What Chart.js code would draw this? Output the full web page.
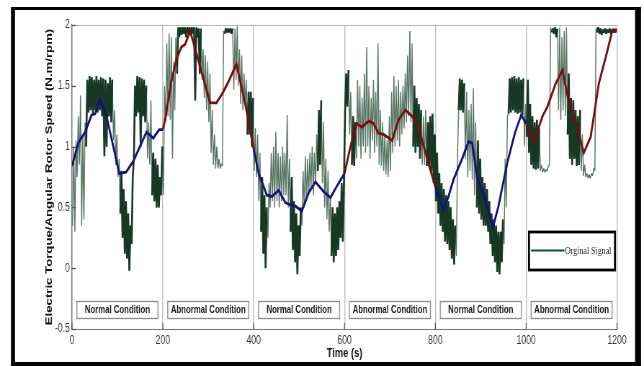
<!DOCTYPE html>
<html>
<head>
<meta charset="utf-8">
<script src="https://cdn.jsdelivr.net/npm/chart.js@4"></script>
<style>
html,body{margin:0;padding:0;background:#fff;overflow:hidden;}
#c{display:block;width:644px;height:366px;}
</style>
</head>
<body>
<canvas id="c" width="894" height="366" style="width:644px;height:366px;"></canvas>
<script>
// ---------- DATA ----------
const conditions = ['Normal Condition','Abnormal Condition','Normal Condition','Abnormal Condition','Normal Condition','Abnormal Condition'];
const segmentEdges = [0,200,400,600,800,1000,1200];
const xTicks = [0,200,400,600,800,1000,1200];
const yTicks = [-0.5,0,0.5,1,1.5,2];
const signalLabel = 'Orginal Signal';
const xTitle = 'Time (s)';
const yTitle = 'Electric Torque/Angular Rotor Speed (N.m/rpm)';
const binSeconds = 5;

// original (noisy) signal: min / max per 5 s bin
const signalLo = [
 0.35,0.30,0.75,0.85,0.35,0.40,1.0,1.28,1.30,1.27, 1.30,1.28,1.30,1.25,0.92,1.0,1.25,1.2,1.05,0.85,
 0.75,0.45,0.25,0.12,0.08,-0.02,0.2,0.9,1.25,1.28, 1.0,1.25,1.2,0.9,0.85,0.6,0.55,0.5,0.5,0.6,
 0.6,1.2,1.25,1.22,0.9,1.3,1.6,1.9,1.92,1.93, 1.9,1.93,1.92,1.93,1.38,1.9,1.6,1.55,1.4,1.3,
 1.2,0.95,0.85,0.82,0.82,0.82,0.84,1.93,1.94,1.94, 1.93,1.47,1.55,1.5,1.35,1.3,1.35,1.1,1.1,1.0,
 0.8,0.75,0.55,0.3,0.12,0.0,0.25,0.5,0.55,0.5, 0.55,0.5,0.55,0.6,0.6,0.5,0.3,0.15,0.05,-0.05,
 0.1,0.35,0.5,0.55,0.6,0.65,0.6,0.7,0.8,0.85, 0.7,0.5,0.4,0.3,0.1,0.05,0.1,0.15,0.25,0.22,
 1.3,1.33,1.1,0.85,0.84,0.9,1.0,0.9,1.0,0.95, 1.0,0.9,1.05,0.95,1.0,0.85,0.84,0.8,0.77,0.75,
 0.8,0.95,1.0,1.05,1.0,1.1,1.15,1.2,1.25,1.2, 1.0,0.95,1.0,0.9,0.85,0.85,0.84,0.85,0.8,0.7,
 0.55,0.45,0.35,0.3,0.22,0.2,0.15,0.08,0.03,0.1, 1.3,1.3,1.28,0.9,0.75,0.8,0.73,0.6,0.5,0.45,
 0.4,0.35,0.35,0.3,0.2,0.1,0.05,-0.03,-0.05,0.05, 0.2,0.5,1.27,1.28,1.3,1.28,1.27,1.28,1.26,1.0,
 1.08,0.95,0.85,0.82,0.81,0.82,0.8,0.79,0.79,0.8, 0.85,1.94,1.93,1.9,1.3,1.22,1.3,1.25,1.1,0.9,
 0.85,0.9,0.84,0.85,0.8,0.76,0.75,0.74,0.74,0.76, 0.8,1.94,1.93,1.92,1.94,1.93,1.94,1.93,1.94,1.94
];
const signalHi = [
 1.0,1.05,1.25,1.42,1.1,1.2,1.55,1.58,1.57,1.55, 1.58,1.55,1.57,1.56,1.55,1.52,1.57,1.55,1.3,1.1,
 0.9,0.8,0.65,0.55,0.45,0.35,0.75,1.5,1.58,1.57, 1.56,1.55,1.5,1.2,1.38,0.95,0.9,0.85,0.75,1.0,
 1.5,1.85,1.93,1.9,1.7,1.9,1.98,1.98,1.98,1.98, 1.98,1.98,1.98,1.98,1.98,1.97,1.97,1.8,1.75,1.7,
 1.6,1.3,1.1,1.0,0.9,0.86,1.95,1.97,1.97,1.97, 1.97,1.97,1.99,1.8,1.75,1.6,1.55,1.45,1.45,1.4,
 1.15,1.1,0.95,0.75,0.6,0.5,0.7,0.95,1.0,1.12, 0.95,0.92,1.0,0.95,1.26,0.9,0.75,0.55,0.45,0.35,
 0.5,0.8,0.92,0.9,0.95,1.0,0.95,1.1,1.3,1.38, 1.2,0.9,0.8,0.6,0.5,0.45,0.5,0.55,0.7,0.7,
 1.6,1.63,1.45,1.25,1.2,1.55,1.5,1.4,1.6,1.82, 1.5,1.4,1.55,1.45,1.85,1.3,1.2,1.1,1.05,1.25,
 1.45,1.58,1.5,1.55,1.45,1.5,1.6,1.75,1.95,1.85, 1.5,1.4,1.35,1.3,1.25,1.3,1.2,1.25,1.27,1.1,
 0.95,0.78,0.7,0.65,0.6,0.55,0.5,0.4,0.35,0.9, 1.56,1.55,1.52,1.45,1.3,1.35,1.48,1.2,1.05,0.9,
 0.75,0.7,0.65,0.55,0.45,0.4,0.35,0.3,0.3,0.4, 0.9,1.25,1.56,1.57,1.58,1.56,1.57,1.55,1.56,1.35,
 1.55,1.35,1.25,1.2,1.22,1.15,0.85,0.82,0.81,0.84, 1.98,1.97,1.98,1.97,1.98,1.9,1.95,1.98,1.6,1.4,
 1.38,1.3,1.25,1.3,1.1,0.85,0.78,0.77,0.78,0.82, 1.98,1.98,1.97,1.96,1.97,1.96,1.97,1.96,1.96,1.96
];
// 1 where the noisy trace is a dense dark band in the picture, 0 where it is sparse thin strokes
const signalDense = [
 0,0,0,0,0,0,1,1,1,1, 1,1,1,1,1,1,1,1,0,0, 0,1,1,1,1,1,1,1,1,1, 1,1,1,0,0,1,1,1,1,1,
 0,0,0,0,0,0,1,1,1,1, 1,1,1,1,1,1,1,0,0,0, 0,0,0,0,0,0,0,1,1,1, 1,0,0,0,0,0,0,1,1,1,
 0,0,0,1,1,1,0,0,0,0, 0,0,0,0,0,0,1,1,1,1, 1,0,0,0,0,0,0,0,1,1, 0,0,0,0,1,1,1,1,1,1,
 1,1,0,1,1,0,0,0,0,0, 0,0,0,0,0,0,0,0,0,0, 0,0,0,0,0,0,0,0,0,0, 1,1,1,1,0,0,1,1,1,1,
 1,1,1,1,1,1,1,1,1,0, 1,1,1,0,0,0,0,0,1,1, 1,1,1,1,1,1,1,1,1,1, 0,0,1,1,1,1,1,1,1,0,
 1,1,1,1,1,1,0,0,0,0, 0,1,1,1,0,0,0,0,1,1, 1,1,1,1,0,0,0,0,0,0, 0,1,1,1,1,1,1,1,1,1
];

// smoothed trend
const trendTime = [0,14,29,43,51,62,76,104,119,135,164,179,192,200,
 206,218,230,241,249,260,282,304,318,333,344,362,381,400,
 411,429,440,455,470,481,492,506,521,536,554,569,584,600,
 613,627,638,653,664,675,686,705,719,734,749,763,785,800,
 818,829,840,859,873,881,892,906,927,939,958,975,989,1000,
 1017,1036,1047,1065,1080,1094,1113,1127,1142,1160,1179,1190,1200];
const trendValue = [0.84,1.03,1.12,1.26,1.27,1.39,1.25,0.78,0.79,0.88,1.12,1.07,1.14,1.14,
 1.24,1.52,1.72,1.82,1.84,1.95,1.66,1.36,1.36,1.45,1.53,1.68,1.36,0.98,
 0.78,0.60,0.59,0.64,0.54,0.52,0.51,0.47,0.62,0.71,0.63,0.58,0.68,0.78,
 1.0,1.19,1.16,1.21,1.19,1.11,1.10,1.05,1.22,1.30,1.25,1.16,0.86,0.67,
 0.48,0.59,0.73,0.90,1.04,1.03,0.75,0.60,0.34,0.51,0.86,1.11,1.26,1.19,
 1.04,1.25,1.33,1.52,1.63,1.36,1.14,0.95,1.08,1.52,1.79,1.96,1.96];

// ---------- STYLE / LAYOUT ----------
// the figure is horizontally compressed: canvas is drawn wider and squeezed to 644 px by CSS
const SX = 644 / 894;
const cx = v => v / SX;   // screen x -> canvas x
const SANS = "'Liberation Sans',Arial,sans-serif";
const SERIF = "'Liberation Serif','Times New Roman',serif";
const NORMAL_COLOR = '#12127f';
const ABNORMAL_COLOR = '#7d0b0b';
const SIGNAL_DARK = '#163825';
const SIGNAL_LIGHT = '#557461';

const signalAll = [], signalDensePts = [];
for (let i = 0; i < signalLo.length; i++) {
  const x0 = i*binSeconds + binSeconds*0.25, x1 = i*binSeconds + binSeconds*0.75;
  signalAll.push({x: x0, y: signalLo[i]}, {x: x1, y: signalHi[i]});
  signalDensePts.push({x: x0, y: signalDense[i] ? signalLo[i] : null}, {x: x1, y: signalDense[i] ? signalHi[i] : null});
}
const trendPoints = trendTime.map((t,i) => ({x: t, y: trendValue[i]}));

function conditionIndex(x){
  for (let i = 0; i < conditions.length; i++) if (x >= segmentEdges[i] && x < segmentEdges[i+1]) return i;
  return conditions.length - 1;
}

const decor = {
  id: 'decor',
  beforeDatasetsDraw(chart){
    const {ctx, chartArea:a} = chart;
    ctx.save();
    ctx.strokeStyle = '#b8b8b8'; ctx.lineWidth = 1;
    ctx.beginPath(); ctx.moveTo(a.left, a.top + 0.5); ctx.lineTo(a.right, a.top + 0.5); ctx.stroke();
    ctx.restore();
  },
  afterDraw(chart){
    const {ctx, chartArea:a, scales} = chart;
    const xs = scales.x, ys = scales.y;
    ctx.save();
    // inward tick marks
    ctx.strokeStyle = '#555'; ctx.lineWidth = 1.3;
    yTicks.forEach(v => { const py = Math.round(ys.getPixelForValue(v)) + 0.5; ctx.beginPath(); ctx.moveTo(a.left, py); ctx.lineTo(a.left + cx(4), py); ctx.stroke(); });
    xTicks.forEach(v => { const px = xs.getPixelForValue(v); ctx.beginPath(); ctx.moveTo(px, a.bottom); ctx.lineTo(px, a.bottom - 6); ctx.stroke(); });
    // condition boxes
    ctx.font = "bold 10.8px " + SANS;
    ctx.textAlign = 'center'; ctx.textBaseline = 'middle';
    conditions.forEach((c,i) => {
      const mx = xs.getPixelForValue((segmentEdges[i] + segmentEdges[i+1]) / 2);
      const w = cx(81), h = 17, top = 301;
      ctx.fillStyle = '#fff'; ctx.fillRect(mx - w/2, top, w, h);
      ctx.strokeStyle = '#8a8a8a'; ctx.lineWidth = 1.3;
      ctx.strokeRect(mx - w/2, top + 0.5, w, h);
      ctx.fillStyle = '#1a1a1a';
      ctx.fillText(c, mx, top + h/2 + 1);
    });
    // legend
    const lx = cx(529), ly = 232, lw = cx(86), lh = 38;
    ctx.fillStyle = '#fff'; ctx.fillRect(lx, ly, lw, lh);
    ctx.strokeStyle = '#000'; ctx.lineWidth = 2.8; ctx.strokeRect(lx, ly, lw, lh);
    ctx.strokeStyle = '#0e4a47'; ctx.lineWidth = 2;
    ctx.beginPath(); ctx.moveTo(cx(531), ly + 18.5); ctx.lineTo(cx(564.5), ly + 18.5); ctx.stroke();
    ctx.fillStyle = '#222'; ctx.font = "11px " + SERIF; ctx.textAlign = 'left';
    ctx.fillText(chart.data.datasets[1].label, cx(565), ly + 19);
    // outer frame
    ctx.fillStyle = '#000';
    ctx.fillRect(cx(11), 7, cx(641) - cx(11), 3);
    ctx.fillRect(cx(11), 362, cx(641) - cx(11), 4);
    ctx.fillRect(cx(11), 7, cx(4), 359);
    ctx.fillRect(cx(635), 7, cx(6), 359);
    ctx.restore();
  }
};

new Chart(document.getElementById('c'), {
  type: 'line',
  data: {
    datasets: [
      {
        label: 'Trend',
        data: trendPoints,
        borderWidth: 2.8,
        borderColor: NORMAL_COLOR,
        tension: 0,
        pointRadius: 0,
        segment: {
          borderColor: ctx => conditions[conditionIndex(ctx.p0.parsed.x)] === 'Normal Condition' ? NORMAL_COLOR : ABNORMAL_COLOR
        }
      },
      {
        label: signalLabel,
        data: signalDensePts,
        borderWidth: 2.6,
        borderColor: SIGNAL_DARK,
        borderJoinStyle: 'bevel',
        spanGaps: false,
        tension: 0,
        pointRadius: 0
      },
      {
        label: signalLabel + ' (sparse)',
        data: signalAll,
        borderWidth: 1.4,
        borderColor: SIGNAL_LIGHT,
        borderJoinStyle: 'bevel',
        tension: 0,
        pointRadius: 0
      }
    ]
  },
  options: {
    responsive: false,
    animation: false,
    devicePixelRatio: 1,
    layout: {padding: {left: 0, top: 25, right: 894 - cx(617), bottom: 0}},
    plugins: {legend: {display: false}, tooltip: {enabled: false}},
    scales: {
      x: {
        type: 'linear', min: 0, max: 1200,
        afterBuildTicks: s => { s.ticks = xTicks.map(v => ({value: v})); },
        grid: {color: '#c0c0c0', lineWidth: 1.4, drawTicks: false},
        border: {color: '#777', width: 1},
        ticks: {padding: 4, color: '#333', font: {family: SANS, size: 12}, maxRotation: 0, autoSkip: false, callback: v => String(v)},
        title: {display: true, text: xTitle, color: '#111', font: {family: SANS, size: 13, weight: 'bold'}, padding: {top: 0, bottom: 5}},
        afterFit: s => { s.height = 366 - 329; }
      },
      y: {
        min: -0.5, max: 2,
        afterBuildTicks: s => { s.ticks = yTicks.map(v => ({value: v})); },
        grid: {display: false, drawTicks: false},
        border: {color: '#777', width: 1.4},
        ticks: {padding: 3, color: '#333', font: {family: SANS, size: 12}, callback: v => String(v)},
        title: {display: true, text: yTitle, color: '#111', font: {family: SANS, size: 13.2, weight: 'bold'}, padding: {top: cx(49) - 7.9, bottom: 0}},
        afterFit: s => { s.width = cx(72); }
      }
    }
  },
  plugins: [decor]
});
</script>
</body>
</html>
